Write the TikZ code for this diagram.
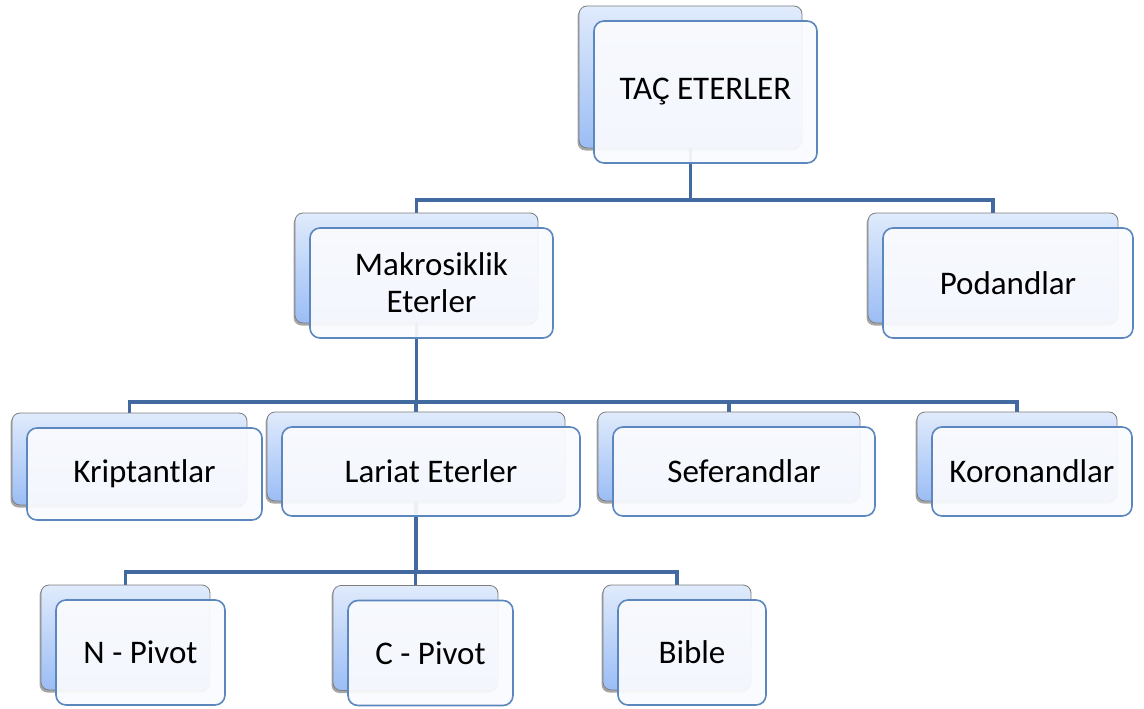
\documentclass[tikz,border=0pt]{standalone}
\usepackage{fontspec}
\setmainfont{Carlito}
\usetikzlibrary{shadows}
\pgfdeclarelayer{canvas}
\pgfdeclarelayer{background}
\pgfsetlayers{canvas,background,main}
\definecolor{conn}{RGB}{66,106,160}
\definecolor{frontline}{RGB}{91,135,190}
\definecolor{frontfill}{RGB}{250,251,254}
\definecolor{backline}{RGB}{125,125,125}
\definecolor{backtop}{RGB}{224,235,252}
\definecolor{backbot}{RGB}{155,189,245}
\tikzset{
  backbox/.style={draw=backline, line width=0.8pt, rounded corners=8pt,
    top color=backtop, bottom color=backbot, inner sep=0pt, outer sep=0pt,
    drop shadow={shadow xshift=-1.5pt, shadow yshift=-2.5pt, opacity=0.35, fill=black}},
  frontbox/.style={draw=frontline, line width=1.6pt, rounded corners=10pt,
    fill=frontfill, fill opacity=0.93, text opacity=1, text=black,
    inner sep=0pt, outer sep=0pt, align=center,
    font=\fontsize{33}{37}\selectfont},
  connector/.style={draw=conn, line width=3.8pt}
}
% #1 name, #2 cx, #3 cy (image px, y down), #4 width, #5 height, #6 text
\newcommand{\twobox}[6]{%
  \node[backbox, minimum width=#4pt, minimum height=#5pt] (#1b) at (#2pt,-#3pt) {};
  \node[frontbox, minimum width=#4pt, minimum height=#5pt] (#1) at ({#2pt+15pt},{-#3pt-15pt}) {#6};
}
\begin{document}
\begin{tikzpicture}[x=1pt,y=1pt]
\begin{pgfonlayer}{canvas}
\fill[white] (0,0) rectangle (1144,-709);
\end{pgfonlayer}
\useasboundingbox (0,0) rectangle (1144,-709);
\twobox{tac}{690.5}{77}{223}{142}{TAÇ ETERLER}
\twobox{mak}{416.5}{268}{243}{110}{Makrosiklik\\Eterler}
\twobox{pod}{993}{268}{250}{110}{Podandlar}
\twobox{kri}{129.5}{459}{235}{92}{Kriptantlar}
\twobox{lar}{416}{456.5}{298}{89}{Lariat Eterler}
\twobox{sef}{729}{456.5}{262}{89}{Seferandlar}
\twobox{kor}{1017}{456.5}{200}{89}{Koronandlar}
\twobox{np}{125.5}{637.5}{169}{105}{N - Pivot}
\twobox{cp}{415.5}{638}{165}{105}{C - Pivot}
\twobox{bib}{677}{637.5}{148}{105}{Bible}
\coordinate (bus1) at (0,-200);
\coordinate (bus2) at (0,-402);
\coordinate (bus3) at (0,-572);
\begin{pgfonlayer}{background}
\draw[connector] (tacb.south) -- (tacb.south |- bus1);
\draw[connector] (makb.north) |- (podb.north |- bus1) -- (podb.north);
\draw[connector] (makb.south) -- (makb.south |- bus2);
\draw[connector] (krib.north) |- (korb.north |- bus2) -- (korb.north);
\draw[connector] (larb.north) -- (larb.north |- bus2);
\draw[connector] (sefb.north) -- (sefb.north |- bus2);
\draw[connector] (larb.south) -- (larb.south |- bus3);
\draw[connector] (npb.north) |- (bibb.north |- bus3) -- (bibb.north);
\draw[connector] (cpb.north) -- (cpb.north |- bus3);
\end{pgfonlayer}
\end{tikzpicture}
\end{document}
